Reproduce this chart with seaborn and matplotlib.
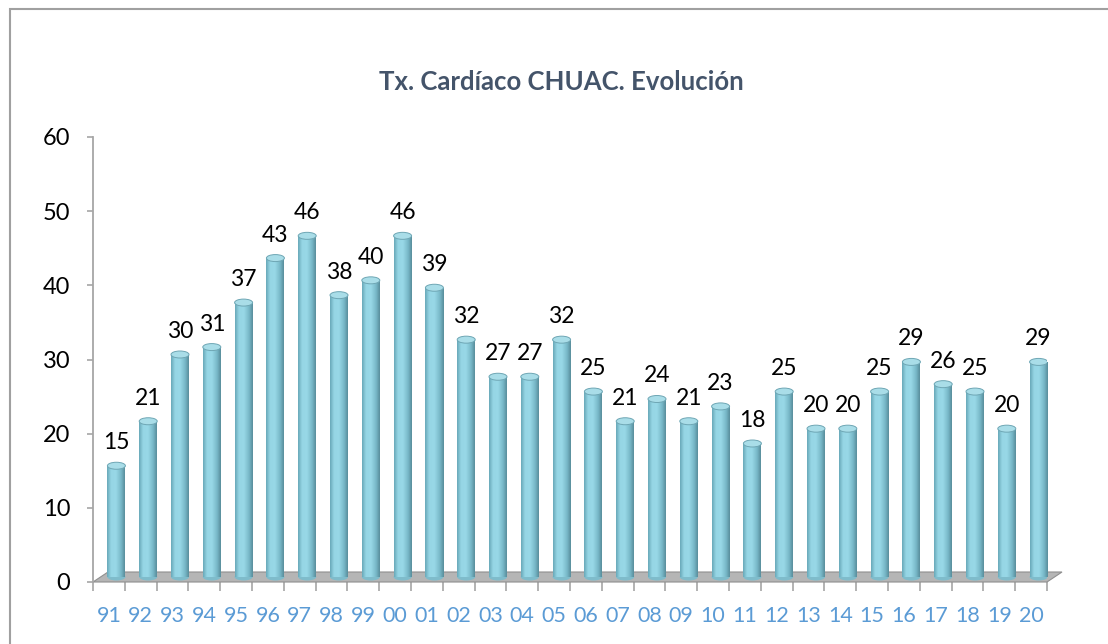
"""Heart transplants per year at CHUAC, drawn as Excel-style 3D cylinders."""

import matplotlib

matplotlib.use("Agg")

import matplotlib.pyplot as plt
import numpy as np
import pandas as pd
import seaborn as sns
from matplotlib.colors import LinearSegmentedColormap
from matplotlib.patches import Ellipse, Polygon, Rectangle

YEARS = [
    "91", "92", "93", "94", "95", "96", "97", "98", "99", "00",
    "01", "02", "03", "04", "05", "06", "07", "08", "09", "10",
    "11", "12", "13", "14", "15", "16", "17", "18", "19", "20",
]
TRANSPLANTS = [
    15, 21, 30, 31, 37, 43, 46, 38, 40, 46,
    39, 32, 27, 27, 32, 25, 21, 24, 21, 23,
    18, 25, 20, 20, 25, 29, 26, 25, 20, 29,
]
Y_TICKS = [0, 10, 20, 30, 40, 50, 60]
TITLE = "Tx. Cardíaco CHUAC. Evolución"

W_PX, H_PX = 1108, 644
AXIS_GRAY = "#a6a6a6"
FLOOR_COLOR = "#b5b5b5"
TICK_BLUE = "#5b9bd5"
TITLE_COLOR = "#44546a"
BAR_CMAP = LinearSegmentedColormap.from_list(
    "cyl",
    [(0.0, "#68a8b8"), (0.22, "#96d6e5"), (0.5, "#98d8e7"), (0.8, "#77b7c7"), (1.0, "#588d9a")],
)

sns.set_theme(style="white")
plt.rcParams["font.family"] = ["Lato", "DejaVu Sans"]

fig = plt.figure(figsize=(W_PX / 100, H_PX / 100), dpi=100)
ax = fig.add_axes([93 / W_PX, 62 / H_PX, 954 / W_PX, 445 / H_PX])

df = pd.DataFrame({"year": YEARS, "value": TRANSPLANTS})
sns.barplot(data=df, x="year", y="value", color="#8fd0df", width=18 / 31.8, ax=ax, zorder=3)
ax.set_xlim(-0.5, len(YEARS) - 0.5)
ax.set_ylim(0, 60)

# depth of the 3D floor, in data units
px_per_cat = 954 / len(YEARS)
px_per_unit = 445 / 60
depth_x = 15 / px_per_cat
depth_y = 10 / px_per_unit
cap_h = 7 / px_per_unit

floor = Polygon(
    [(-0.5, 0), (len(YEARS) - 0.5, 0), (len(YEARS) - 0.5 + depth_x, depth_y), (-0.5 + depth_x, depth_y)],
    closed=True, facecolor=FLOOR_COLOR, edgecolor="#8f8f8f", lw=0.8, zorder=1, clip_on=False,
)
ax.add_patch(floor)

gradient = np.linspace(0, 1, 64).reshape(1, -1)
for patch, value in zip(ax.patches[:len(YEARS)], TRANSPLANTS):
    x0 = patch.get_x() + depth_x / 2
    bw = patch.get_width()
    patch.set_x(x0)
    patch.set_y(depth_y / 2)
    patch.set_edgecolor("none")
    xc = x0 + bw / 2
    top = value + depth_y / 2
    img = ax.imshow(
        gradient, cmap=BAR_CMAP, aspect="auto", extent=[x0, x0 + bw, depth_y / 2, top],
        zorder=3.5, interpolation="bicubic",
    )
    img.set_clip_path(patch)
    ax.add_patch(Ellipse((xc, depth_y / 2), bw, cap_h, facecolor="#7fbccb", edgecolor="none", zorder=2.5))
    ax.add_patch(Ellipse((xc, top), bw, cap_h, facecolor="#a9dde8", edgecolor="#6ea6b4", lw=0.7, zorder=4))
    ax.text(xc, top + 23 / px_per_unit, str(value), ha="center", va="center", fontsize=16.5, color="black")

ax.set_xlim(-0.5, len(YEARS) - 0.5)
ax.set_ylim(0, 60)

for side in ["top", "right", "bottom"]:
    ax.spines[side].set_visible(False)
ax.spines["left"].set_color(AXIS_GRAY)
ax.spines["left"].set_linewidth(1.3)

ax.set_yticks(Y_TICKS)
ax.set_yticklabels([str(t) for t in Y_TICKS], fontsize=17, color="black")
ax.tick_params(axis="y", length=4.5, width=1.2, color=AXIS_GRAY, pad=12, left=True)

ax.set_xticks(range(len(YEARS)))
ax.set_xticklabels(YEARS, fontsize=15.5, color=TICK_BLUE)
ax.set_xticks(np.arange(-0.5, len(YEARS)), minor=True)
ax.tick_params(axis="x", which="major", length=0, pad=17)
ax.tick_params(axis="x", which="minor", length=6.5, width=1.2, color=AXIS_GRAY, bottom=True, direction="out")
ax.set_xlabel("")
ax.set_ylabel("")
ax.grid(False)

fig.text(561 / W_PX, 1 - 82 / H_PX, TITLE, ha="center", va="center",
         fontsize=18.5, fontweight="bold", color=TITLE_COLOR)

fig.patches.append(Rectangle(
    (9.5 / W_PX, -0.1), 1.2, 1.1 - 9.5 / H_PX, transform=fig.transFigure,
    fill=False, edgecolor="#a0a0a0", lw=1.5,
))

fig.savefig("out.png", dpi=100)
